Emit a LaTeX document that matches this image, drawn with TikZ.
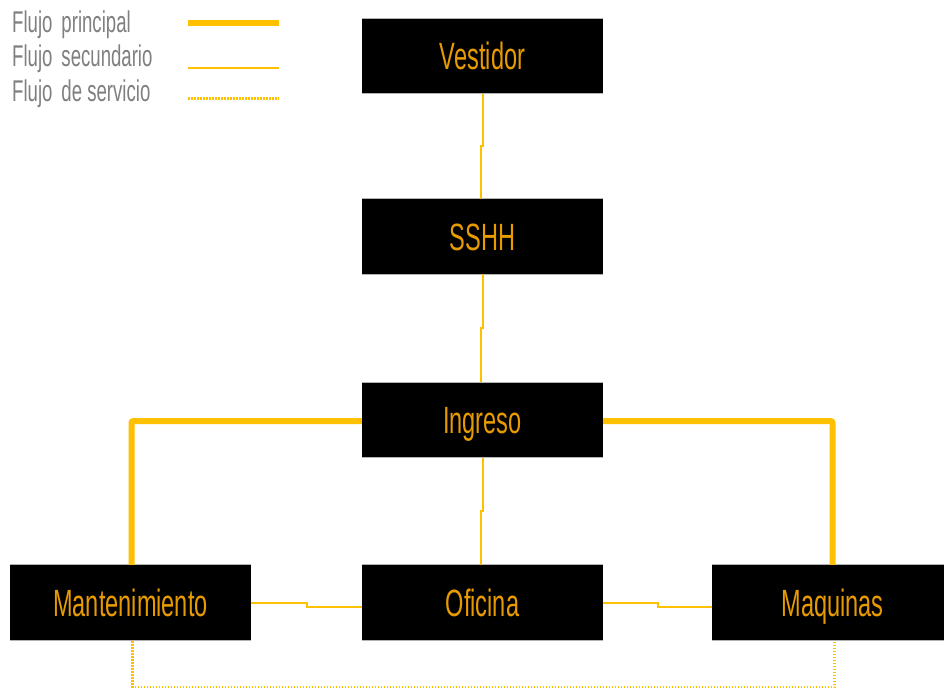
\documentclass[tikz,border=0pt]{standalone}
\usepackage{fontspec}
\setmainfont[FakeStretch=0.62]{Liberation Sans}
\usetikzlibrary{calc}
\definecolor{flow}{RGB}{255,192,0}
\definecolor{txt}{RGB}{232,155,0}
\definecolor{legtxt}{RGB}{128,128,128}
\begin{document}
\begin{tikzpicture}[x=1pt,y=-1pt,
  box/.style={fill=black, minimum width=241pt, minimum height=75pt, inner sep=0pt,
    text=txt, text height=27pt, text depth=0pt, font=\fontsize{38}{40}\selectfont},
  legend/.style={anchor=base west, inner sep=0pt, text=legtxt, font=\fontsize{30}{32}\selectfont},
  mainflow/.style={draw=flow, line width=6pt, rounded corners=2pt},
  secflow/.style={draw=flow, line width=2pt},
  servflow/.style={draw=flow, line width=2.5pt, dash pattern=on 1.5pt off 1.5pt},
  edge/.style={draw=gray!60, line width=1pt}]
\clip (0,0) rectangle (944,690);
\fill[white] (0,0) rectangle (944,690);

% legend
\node[legend] (l1) at (12,33) {Flujo\hspace{9pt}principal};
\node[legend] (l2) at (12,67) {Flujo\hspace{9pt}secundario};
\node[legend] (l3) at (12,101.5) {Flujo\hspace{9pt}de servicio};
\coordinate (a1) at (188,23);  \coordinate (b1) at (279,23);
\coordinate (a2) at (188,68);  \coordinate (b2) at (279,68);
\coordinate (a3) at (188,98.5);  \coordinate (b3) at (279,98.5);
\draw[mainflow] (a1) -- (b1);
\draw[secflow] (a2) -- (b2);
\draw[servflow] (a3) -- (b3);

% boxes
\node[box] (V) at (482.5,56) {Vestidor};
\node[box] (S) at (482.5,236.5) {SSHH};
\node[box] (I) at (482.5,420) {Ingreso};
\node[box] (O) at (482.5,602.5) {Oficina};
\node[box] (M) at (130.5,602.5) {Mantenimiento};
\node[box] (Q) at (832.5,602.5) {Maquinas};
\foreach \n in {V,S,I,O,M,Q}{
  \draw[edge] (\n.north west) -- (\n.north east);
  \draw[edge] (\n.south west) -- (\n.south east);
}

% secondary vertical flows
\draw[secflow] ($(V.south)+(0.7,0)$) |- ($(V.south)!0.5!(S.north)+(-1.8,0)$) -- ($(S.north)+(-1.8,0)$);
\draw[secflow] ($(S.south)+(0.7,0)$) |- ($(S.south)!0.5!(I.north)+(-1.8,0)$) -- ($(I.north)+(-1.8,0)$);
\draw[secflow] ($(I.south)+(0.7,0)$) |- ($(I.south)!0.5!(O.north)+(-1.8,0)$) -- ($(O.north)+(-1.8,0)$);

% secondary horizontal flows
\draw[secflow] ($(M.east)+(0,0.8)$) -| ($(M.east)!0.5!(O.west)+(0,4)$) -- ($(O.west)+(0,4)$);
\draw[secflow] ($(O.east)+(0,0.8)$) -| ($(O.east)!0.5!(Q.west)+(0,4)$) -- ($(Q.west)+(0,4)$);

% main flows
\draw[mainflow] ($(I.west)+(0,1)$) -| ($(M.north)+(1,0)$);
\draw[mainflow] ($(I.east)+(0,1)$) -| (Q.north);

% service flow
\draw[servflow] ($(M.south)+(2,1)$) -- ++(0,46) -| ($(Q.south)+(2,1)$);
\end{tikzpicture}
\end{document}
